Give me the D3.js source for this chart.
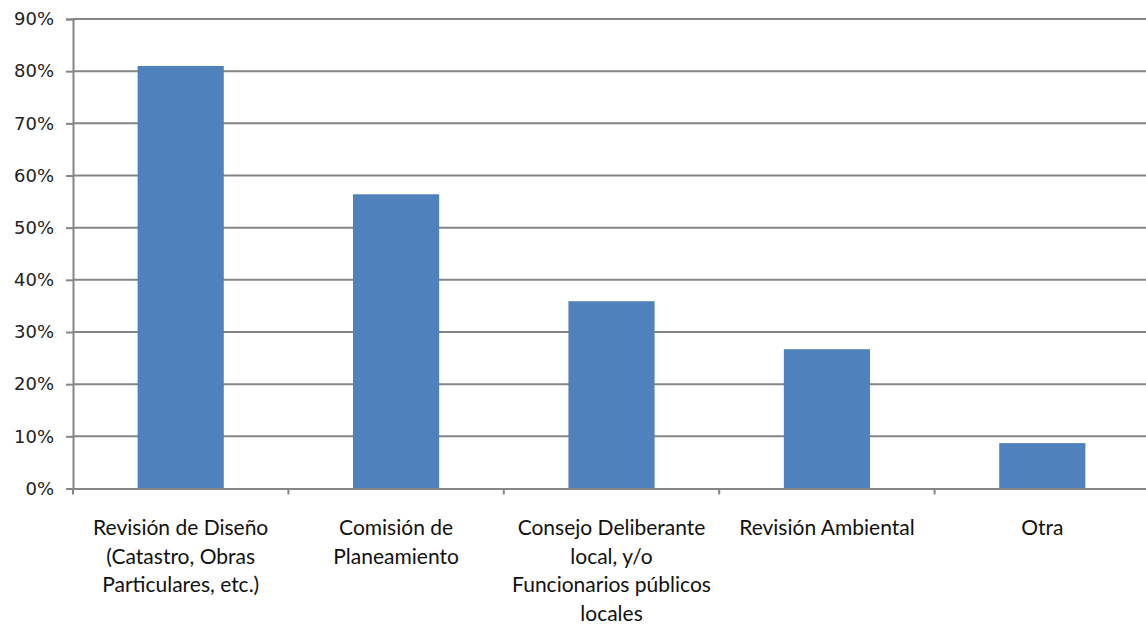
<!DOCTYPE html>
<html><head><meta charset="utf-8">
<script src="https://cdn.jsdelivr.net/npm/d3@7"></script>
<style>body{margin:0;background:#fff}</style>
</head><body>
<svg id="c" width="1146" height="626"></svg>
<script>
const categories = [
  ["Revisión de Diseño", "(Catastro, Obras", "Particulares, etc.)"],
  ["Comisión de", "Planeamiento"],
  ["Consejo Deliberante", "local, y/o", "Funcionarios públicos", "locales"],
  ["Revisión Ambiental"],
  ["Otra"]
];
const values = [0.81, 0.564, 0.359, 0.267, 0.087];
const yTicks = [0,0.1,0.2,0.3,0.4,0.5,0.6,0.7,0.8,0.9];

(function(){
const svg = d3.select("#c");
const mLeft = 73, mRight = 1150, mTop = 19, mBottom = 488.5;
const x = d3.scaleBand().domain(d3.range(categories.length)).range([mLeft, mRight]).padding(0);
const y = d3.scaleLinear().domain([0, 0.9]).range([mBottom, mTop]);
const gridCol = "#868686";

// gridlines
svg.append("g").selectAll("line").data(yTicks.slice(1)).join("line")
  .attr("x1", mLeft).attr("x2", mRight)
  .attr("y1", d => y(d)).attr("y2", d => y(d))
  .attr("stroke", gridCol).attr("stroke-width", 2);

// bars
const bw = x.bandwidth() * 0.4;
svg.append("g").selectAll("rect").data(values).join("rect")
  .attr("x", (d,i) => x(i) + x.bandwidth()/2 - bw/2)
  .attr("width", bw)
  .attr("y", d => y(d))
  .attr("height", d => y(0) - y(d))
  .attr("fill", "#4f81bd");

// y axis
const ya = d3.axisLeft(y).tickValues(yTicks).tickFormat(d3.format(".0%")).tickSize(7).tickPadding(12);
const yg = svg.append("g").attr("transform", `translate(${mLeft},0)`).call(ya);
yg.select(".domain").attr("stroke", gridCol).attr("stroke-width", 2);
yg.selectAll(".tick line").attr("stroke", gridCol).attr("stroke-width", 2);
yg.selectAll("text").attr("font-family", "DejaVu Sans").attr("font-size", 18).attr("fill", "#222");

// x axis
const xa = d3.axisBottom(x).tickSize(0).tickFormat("");
const xg = svg.append("g").attr("transform", `translate(0,${mBottom})`).call(xa);
xg.select(".domain").attr("stroke", gridCol).attr("stroke-width", 2);
xg.selectAll(".tick").remove();
const bounds = d3.range(categories.length + 1).map(i => i < categories.length ? x(i) : mRight);
xg.selectAll("line.b").data(bounds).join("line").attr("class","b")
  .attr("x1", d => d).attr("x2", d => d).attr("y1", 0).attr("y2", 6)
  .attr("stroke", gridCol).attr("stroke-width", 2);

// category labels
const lab = svg.append("g").selectAll("text").data(categories).join("text")
  .attr("text-anchor", "middle")
  .attr("font-family", "Lato").attr("font-size", 21).attr("fill", "#111");
lab.each(function(lines, i) {
  d3.select(this).selectAll("tspan").data(lines).join("tspan")
    .attr("x", x(i) + x.bandwidth()/2)
    .attr("y", (d, j) => 535 + j * 28.5)
    .text(d => d);
});
})();
</script>
</body></html>
